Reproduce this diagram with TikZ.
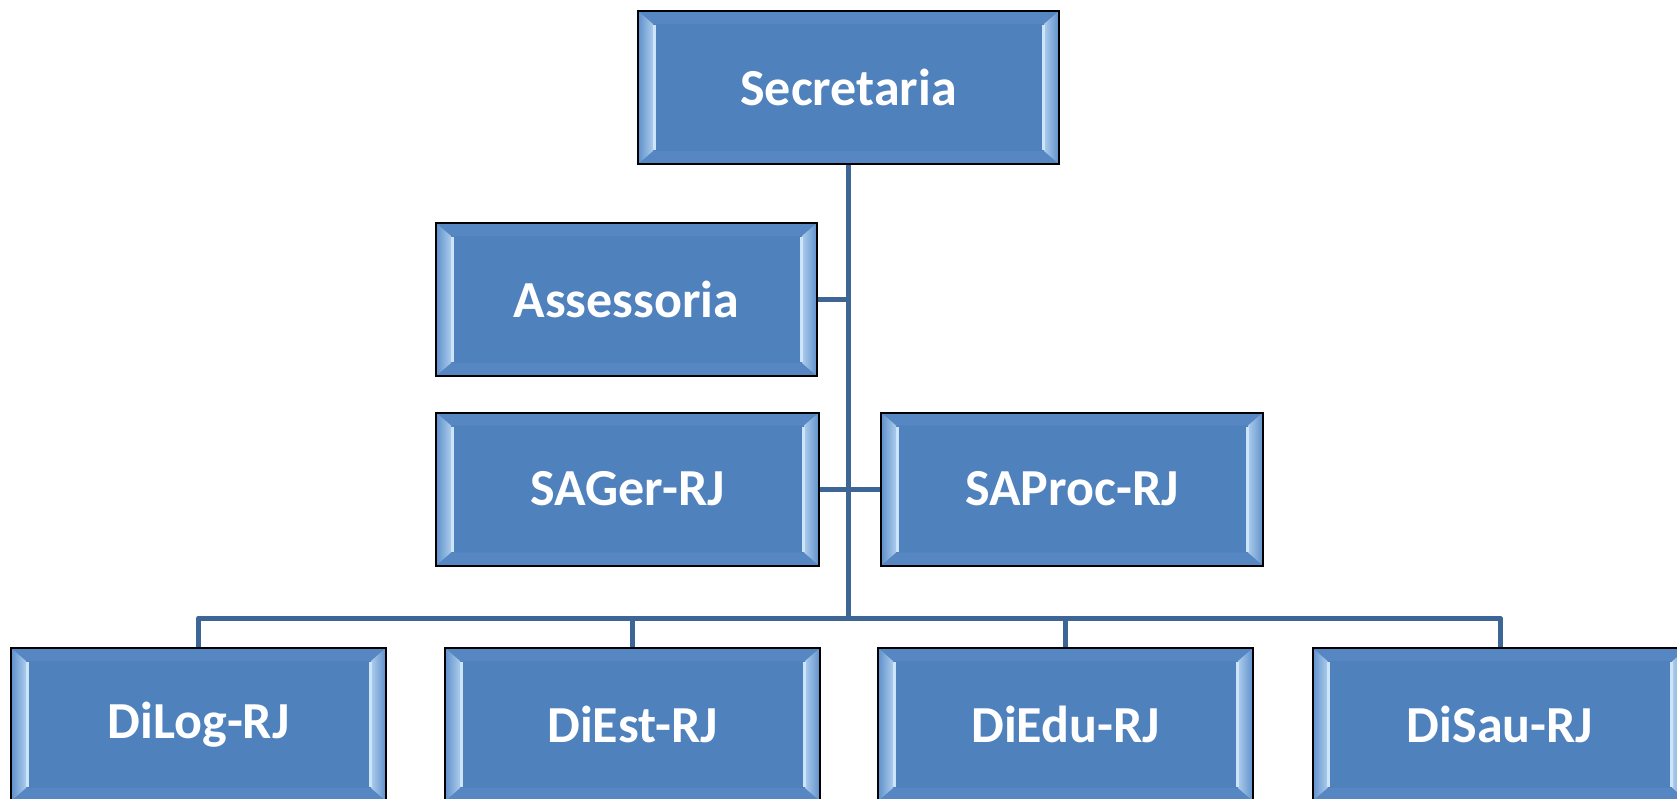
\documentclass[tikz,border=0pt]{standalone}
\usepackage{fontspec}
\setmainfont{Carlito}
\usetikzlibrary{calc}

\definecolor{boxblue}{HTML}{4F81BD}
\definecolor{linkblue}{HTML}{3D6696}
\definecolor{bevelside}{HTML}{5E90CB}
\definecolor{beveltop}{HTML}{5787C2}
\definecolor{bevellight}{HTML}{CDE5FA}

\tikzset{
  orgbox/.style={draw=black, line width=2pt, fill=boxblue, text=white,
    minimum width=#1, minimum height=153pt, inner sep=0pt,
    font=\bfseries\fontsize{52}{60}\selectfont,
    path picture={
      \path (path picture bounding box.north west) coordinate (bnw)
            (path picture bounding box.north east) coordinate (bne)
            (path picture bounding box.south west) coordinate (bsw)
            (path picture bounding box.south east) coordinate (bse);
      \fill[beveltop] (bnw) -- ($(bnw)+(15pt,-13pt)$) -- ($(bne)+(-15pt,-13pt)$)
        -- (bne) -- cycle;
      \fill[beveltop] (bsw) -- ($(bsw)+(15pt,13pt)$) -- ($(bse)+(-15pt,13pt)$)
        -- (bse) -- cycle;
      \shade[left color=bevelside, right color=bevellight!70!bevelside]
        (bnw) -- ($(bnw)+(15pt,-13pt)$) -- ($(bsw)+(15pt,13pt)$) -- (bsw) -- cycle;
      \shade[left color=bevellight!70!bevelside, right color=bevelside]
        (bne) -- ($(bne)+(-15pt,-13pt)$) -- ($(bse)+(-15pt,13pt)$) -- (bse) -- cycle;
      \draw[bevellight, line width=3pt] ($(bnw)+(16pt,-14pt)$) -- ($(bsw)+(16pt,14pt)$);
      \draw[bevellight, line width=3pt] ($(bne)+(-16pt,-14pt)$) -- ($(bse)+(-16pt,14pt)$);
    }},
  link/.style={draw=linkblue, line width=5pt, line join=round}
}

\begin{document}
\begin{tikzpicture}[x=1pt,y=-1pt]
  \useasboundingbox (0,0) rectangle (1677,799);

  % upper levels
  \node[orgbox=421pt] (sec) at (848.5,87.5) {Secretaria};
  \node[orgbox=381pt] (ass) at (626.5,299.5) {Assessoria};
  \node[orgbox=383pt] (sager) at (627.5,489) {SAGer-RJ};
  \node[orgbox=382pt] (saproc) at (1072,489) {SAProc-RJ};

  % divisions
  \foreach \n/\x/\t in {dilog/198.5/DiLog-RJ, diest/632.5/DiEst-RJ,
    diedu/1065.5/DiEdu-RJ, disau/1500/DiSau-RJ}{
    \node[orgbox=375pt] (\n) at (\x,724.5) {\t};
  }

  % links
  \coordinate (bus) at (sec.south |- 0,618);
  \draw[link] (sec.south) -- (bus);
  \draw[link] (ass.east) -- (ass.east -| bus);
  \draw[link] (sager.east) -- (saproc.west);
  \draw[link] (dilog.north) |- (bus) -| (disau.north);
  \foreach \n in {diest,diedu}
    \draw[link] (\n.north) -- (\n.north |- bus);
\end{tikzpicture}
\end{document}
